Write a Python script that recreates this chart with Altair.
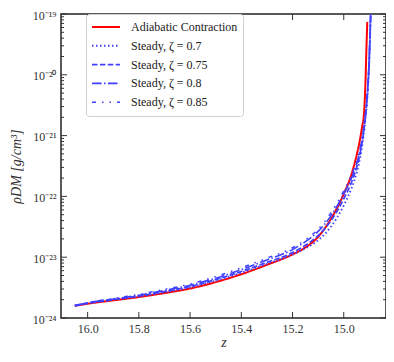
import altair as alt
import pandas as pd

# ---------------- data ----------------
SERIES = ["Adiabatic Contraction", "Steady, ζ = 0.7", "Steady, ζ = 0.75",
          "Steady, ζ = 0.8", "Steady, ζ = 0.85"]

Z_RED = [16.05, 16.0, 15.9, 15.8, 15.7, 15.6, 15.5, 15.4, 15.3, 15.2, 15.15, 15.1,
         15.05, 15.0, 14.97, 14.95, 14.94, 14.93, 14.92, 14.915, 14.912, 14.908]
LOG_RED = [-23.80, -23.765, -23.71, -23.655, -23.59, -23.515, -23.41, -23.28, -23.125,
           -22.955, -22.84, -22.665, -22.37, -21.96, -21.64, -21.33, -21.14, -20.90,
           -20.58, -20.10, -19.65, -19.13]

Z_STEADY = [16.05, 16.0, 15.9, 15.8, 15.7, 15.6, 15.5, 15.4, 15.3, 15.2, 15.15, 15.1,
            15.05, 15.0, 14.97, 14.95, 14.94, 14.93, 14.92, 14.91, 14.905, 14.90,
            14.897, 14.894]
LOG_070 = [-23.80, -23.76, -23.70, -23.645, -23.575, -23.495, -23.385, -23.255, -23.11,
           -22.955, -22.855, -22.72, -22.50, -22.15, -21.87, -21.62, -21.45, -21.22,
           -20.92, -20.50, -20.20, -19.75, -19.35, -18.9]
LOG_075 = [-23.80, -23.757, -23.697, -23.638, -23.565, -23.48, -23.37, -23.235, -23.085,
           -22.925, -22.805, -22.645, -22.40, -22.04, -21.77, -21.53, -21.37, -21.15,
           -20.86, -20.45, -20.15, -19.70, -19.30, -18.9]
LOG_080 = [-23.797, -23.752, -23.688, -23.625, -23.548, -23.46, -23.345, -23.205, -23.045,
           -22.875, -22.745, -22.575, -22.32, -21.96, -21.70, -21.47, -21.31, -21.10,
           -20.82, -20.42, -20.12, -19.67, -19.28, -18.9]
LOG_085 = [-23.793, -23.747, -23.68, -23.612, -23.53, -23.44, -23.32, -23.175, -23.015,
           -22.845, -22.715, -22.54, -22.27, -21.91, -21.65, -21.43, -21.28, -21.07,
           -20.79, -20.40, -20.10, -19.65, -19.25, -18.9]

X_TICKS = [16.0, 15.8, 15.6, 15.4, 15.2, 15.0]
Y_EXP = [-24, -23, -22, -21, -20, -19]
Y_TICK_LABELS = ["10⁻²⁴", "10⁻²³", "10⁻²²", "10⁻²¹", "10⁻²⁰", "10⁻¹⁹"]
Y_MINOR_MULT = [2, 3, 4, 5, 6, 7, 8, 9]

# ---------------- build tables ----------------
rows = []
for z, lg in zip(Z_RED, LOG_RED):
    rows.append({"z": z, "rho": 10 ** lg, "series": SERIES[0]})
for name, logs in zip(SERIES[1:], [LOG_070, LOG_075, LOG_080, LOG_085]):
    for z, lg in zip(Z_STEADY, logs):
        rows.append({"z": z, "rho": 10 ** lg, "series": name})
df = pd.DataFrame(rows)

y_major = [10.0 ** e for e in Y_EXP]
y_minor = [m * 10.0 ** e for e in Y_EXP[:-1] for m in Y_MINOR_MULT]
df_xt = pd.DataFrame({"z": X_TICKS})
df_ymaj = pd.DataFrame({"rho": y_major})
df_ymin = pd.DataFrame({"rho": y_minor})

W, H = 325, 304
FONT = "Liberation Serif"
XDOM = [14.835, 16.104]
YDOM = [1e-24, 1e-19]

xscale = alt.Scale(domain=XDOM, reverse=True, nice=False, zero=False)
yscale = alt.Scale(type="log", domain=YDOM, nice=False)

label_expr = "[" + ",".join("'%s'" % s for s in Y_TICK_LABELS) + "][round(log(datum.value)/LN10)+24]"

xaxis = alt.Axis(title="z", values=X_TICKS, format=".1f", tickSize=0,
                 labelPadding=5, titlePadding=1, grid=False,
                 titleFontStyle="italic", titleFontWeight="normal")
yaxis = alt.Axis(title="ρDM [g/cm³]", values=y_major, labelExpr=label_expr,
                 tickSize=0, labelPadding=5, titlePadding=9, grid=False, labelOffset=1,
                 titleFontStyle="italic", titleFontWeight="normal")

lines = alt.Chart(df).mark_line(clip=True, interpolate="monotone").encode(
    x=alt.X("z:Q", scale=xscale, axis=xaxis),
    y=alt.Y("rho:Q", scale=yscale, axis=yaxis),
    color=alt.Color("series:N",
                    scale=alt.Scale(domain=SERIES,
                                    range=["#ff0000", "#4040ff", "#4040ff", "#4040ff", "#4040ff"]),
                    legend=alt.Legend(title=None, orient="none", legendX=25, legendY=0,
                                      symbolType="stroke", symbolSize=784, clipHeight=16,
                                      rowPadding=2.8, labelOffset=10, padding=5,
                                      labelFont=FONT, labelFontSize=12, labelColor="#222",
                                      strokeColor="#d0d0d0", fillColor="white",
                                      cornerRadius=3, symbolStrokeWidth=1.6)),
    strokeDash=alt.StrokeDash("series:N",
                              scale=alt.Scale(domain=SERIES,
                                              range=[[1, 0], [1.5, 2.5], [5.5, 2.4],
                                                     [9.6, 2.4, 1.5, 2.4], [4, 6, 1.5, 6, 1.5, 6]]),
                              legend=alt.Legend(title=None)),
    strokeWidth=alt.StrokeWidth("series:N",
                                scale=alt.Scale(domain=SERIES, range=[2.0, 1.5, 1.5, 1.5, 1.5]),
                                legend=alt.Legend(title=None)),
    order=alt.Order("z:Q", sort="descending"),
)

TICK_COLOR = "#333333"
MAJ, MINL = 6, 3

def xrule(y0, y1):
    return alt.Chart(df_xt).mark_rule(color=TICK_COLOR, strokeWidth=1).encode(
        x=alt.X("z:Q", scale=xscale, axis=xaxis),
        y=alt.value(y0), y2=alt.value(y1))

def yrule(d, x0, x1):
    return alt.Chart(d).mark_rule(color=TICK_COLOR, strokeWidth=1).encode(
        y=alt.Y("rho:Q", scale=yscale, axis=yaxis),
        x=alt.value(x0), x2=alt.value(x1))

ticks = [
    xrule(0, MAJ), xrule(H, H - MAJ),
    yrule(df_ymaj, 0, MAJ), yrule(df_ymaj, W, W - MAJ),
    yrule(df_ymin, 0, MINL), yrule(df_ymin, W, W - MINL),
]

chart = alt.layer(lines, *ticks).properties(
    width=W, height=H,
    autosize=alt.AutoSizeParams(type="none"),
    padding={"left": 53, "top": 6, "right": 0, "bottom": 36},
).configure_view(
    stroke="#222222", strokeWidth=1.5
).configure_axis(
    labelFont=FONT, titleFont=FONT, labelFontSize=12, titleFontSize=14,
    labelColor="#333", titleColor="#333", domain=False,
)

chart.save("out.html", embed_options={"renderer": "svg", "actions": False})
